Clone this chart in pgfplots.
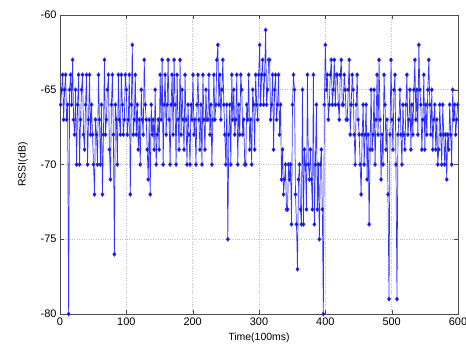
\documentclass[border=0pt]{standalone}
\usepackage{pgfplots}
\pgfplotsset{compat=1.18}
\usepackage{fontspec}
\setmainfont{Liberation Sans}
\begin{document}
\begin{tikzpicture}
\begin{axis}[
  scale only axis,
  width=398bp, height=299bp,
  xmin=0, xmax=600, ymin=-80, ymax=-60,
  xtick={0,100,...,600}, ytick={-80,-75,...,-60},
  tick pos=both, tick align=inside,
  major tick length=4bp,
  grid=major,
  major grid style={dotted, gray!50, line width=0.7pt},
  axis line style={gray!60!black, line width=0.8pt},
  tick style={gray!60!black},
  ticklabel style={font=\fontsize{11}{13}\selectfont},
  /pgf/number format/assume math mode=true,
  xlabel={Time(100ms)}, ylabel={RSSI(dB)},
  label style={font=\fontsize{10.5}{12}\selectfont},
  xlabel style={yshift=-1bp},
  ylabel style={yshift=6bp},
]
\addplot[color=blue!80!white, line width=0.7pt, mark=diamond*, mark size=2pt, mark options={fill=blue!80!black}] coordinates {
(1,-66)(2.5,-65)(4,-64)(5.5,-67)(7,-65)(8.5,-64)(10,-67)(11.5,-66)(13,-80)(14.5,-65)(16,-64)(17.5,-66)(19,-63)(20.5,-67)(22,-68)(23.5,-65)(25,-70)(26.5,-66)(28,-64)(29.5,-70)
(31,-67)(32.5,-65)(34,-64)(35.5,-68)(37,-69)(38.5,-66)(40,-64)(41.5,-70)(43,-67)(44.5,-64)(46,-68)(47.5,-66)(49,-68)(50.5,-70)(52,-72)(53.5,-67)(55,-68)(56.5,-70)(58,-64)(59.5,-67)
(61,-70)(62.5,-66)(64,-72)(65.5,-68)(67,-63)(68.5,-68)(70,-67)(71.5,-65)(73,-64)(74.5,-69)(76,-71)(77.5,-66)(79,-64)(80.5,-68)(82,-76)(83.5,-66)(85,-67)(86.5,-70)(88,-64)(89.5,-67)
(91,-68)(92.5,-64)(94,-66)(95.5,-68)(97,-67)(98.5,-64)(100,-65)(101.5,-68)(103,-67)(104.5,-64)(106,-72)(107.5,-66)(109,-62)(110.5,-68)(112,-67)(113.5,-64)(115,-68)(116.5,-66)(118,-69)(119.5,-67)
(121,-70)(122.5,-65)(124,-67)(125.5,-68)(127,-63)(128.5,-66)(130,-67)(131.5,-69)(133,-71)(134.5,-67)(136,-72)(137.5,-66)(139,-68)(140.5,-67)(142,-69)(143.5,-65)(145,-70)(146.5,-68)(148,-67)(149.5,-69)
(151,-64)(152.5,-67)(154,-63)(155.5,-70)(157,-66)(158.5,-64)(160,-68)(161.5,-66)(163,-63)(164.5,-67)(166,-70)(167.5,-66)(169,-64)(170.5,-68)(172,-63)(173.5,-66)(175,-70)(176.5,-64)(178,-67)(179.5,-69)
(181,-63)(182.5,-68)(184,-65)(185.5,-67)(187,-69)(188.5,-64)(190,-67)(191.5,-70)(193,-66)(194.5,-68)(196,-70)(197.5,-66)(199,-67)(200.5,-64)(202,-68)(203.5,-67)(205,-70)(206.5,-66)(208,-64)(209.5,-67)
(211,-69)(212.5,-66)(214,-70)(215.5,-64)(217,-67)(218.5,-69)(220,-65)(221.5,-67)(223,-67)(224.5,-64)(226,-68)(227.5,-66)(229,-70)(230.5,-67)(232,-64)(233.5,-67)(235,-66)(236.5,-63)(238,-62)(239.5,-66)
(241,-64)(242.5,-67)(244,-65)(245.5,-63)(247,-66)(248.5,-68)(250,-70)(251.5,-66)(253,-75)(254.5,-68)(256,-66)(257.5,-70)(259,-64)(260.5,-67)(262,-65)(263.5,-68)(265,-67)(266.5,-64)(268,-70)(269.5,-66)
(271,-68)(272.5,-64)(274,-65)(275.5,-68)(277,-67)(278.5,-70)(280,-70)(281.5,-66)(283,-67)(284.5,-64)(286,-69)(287.5,-67)(289,-70)(290.5,-65)(292,-66)(293.5,-69)(295,-64)(296.5,-66)(298,-67)(299.5,-64)
(301,-62)(302.5,-66)(304,-64)(305.5,-63)(307,-66)(308.5,-64)(310,-61)(311.5,-66)(313,-65)(314.5,-63)(316,-63)(317.5,-67)(319,-66)(320.5,-64)(322,-69)(323.5,-65)(325,-64)(326.5,-67)(328,-66)(329.5,-64)
(331,-68)(332.5,-66)(334,-71)(335.5,-69)(337,-72)(338.5,-71)(340,-70)(341.5,-73)(343,-73)(344.5,-70)(346,-71)(347.5,-70)(349,-74)(350.5,-66)(352,-64)(353.5,-65)(355,-72)(356.5,-74)(358,-77)(359.5,-71)
(361,-70)(362.5,-73)(364,-74)(365.5,-65)(367,-74)(368.5,-69)(370,-70)(371.5,-73)(373,-64)(374.5,-70)(376,-71)(377.5,-69)(379,-71)(380.5,-73)(382,-64)(383.5,-74)(385,-70)(386.5,-66)(388,-73)(389.5,-70)
(391,-75)(392.5,-70)(394,-69)(395.5,-73)(397,-80)(398.5,-66)(400,-62)(401.5,-65)(403,-64)(404.5,-67)(406,-66)(407.5,-64)(409,-63)(410.5,-66)(412,-65)(413.5,-63)(415,-66)(416.5,-64)(418,-64)(419.5,-66)
(421,-67)(422.5,-64)(424,-63)(425.5,-66)(427,-66)(428.5,-64)(430,-65)(431.5,-67)(433,-67)(434.5,-65)(436,-63)(437.5,-68)(439,-66)(440.5,-64)(442,-65)(443.5,-68)(445,-70)(446.5,-66)(448,-64)(449.5,-67)
(451,-68)(452.5,-70)(454,-72)(455.5,-68)(457,-66)(458.5,-70)(460,-68)(461.5,-66)(463,-71)(464.5,-68)(466,-74)(467.5,-69)(469,-65)(470.5,-69)(472,-68)(473.5,-65)(475,-70)(476.5,-67)(478,-64)(479.5,-68)
(481,-63)(482.5,-67)(484,-71)(485.5,-68)(487,-70)(488.5,-64)(490,-66)(491.5,-69)(493,-67)(494.5,-72)(496,-79)(497.5,-68)(499,-63)(500.5,-67)(502,-69)(503.5,-65)(505,-64)(506.5,-70)(508,-79)(509.5,-68)
(511,-67)(512.5,-65)(514,-68)(515.5,-70)(517,-66)(518.5,-68)(520,-69)(521.5,-66)(523,-64)(524.5,-68)(526,-67)(527.5,-65)(529,-69)(530.5,-66)(532,-68)(533.5,-65)(535,-63)(536.5,-67)(538,-65)(539.5,-68)
(541,-62)(542.5,-65)(544,-66)(545.5,-69)(547,-67)(548.5,-64)(550,-69)(551.5,-66)(553,-68)(554.5,-65)(556,-63)(557.5,-66)(559,-68)(560.5,-65)(562,-69)(563.5,-67)(565,-66)(566.5,-69)(568,-67)(569.5,-70)
(571,-69)(572.5,-66)(574,-68)(575.5,-70)(577,-66)(578.5,-68)(580,-70)(581.5,-68)(583,-71)(584.5,-68)(586,-69)(587.5,-66)(589,-68)(590.5,-70)(592,-65)(593.5,-67)(595,-66)(596.5,-68)(598,-67)(599.5,-66)
};
\end{axis}
\pgfresetboundingbox
\path (-60bp,-43bp) rectangle (406bp,314bp);
\end{tikzpicture}
\end{document}
